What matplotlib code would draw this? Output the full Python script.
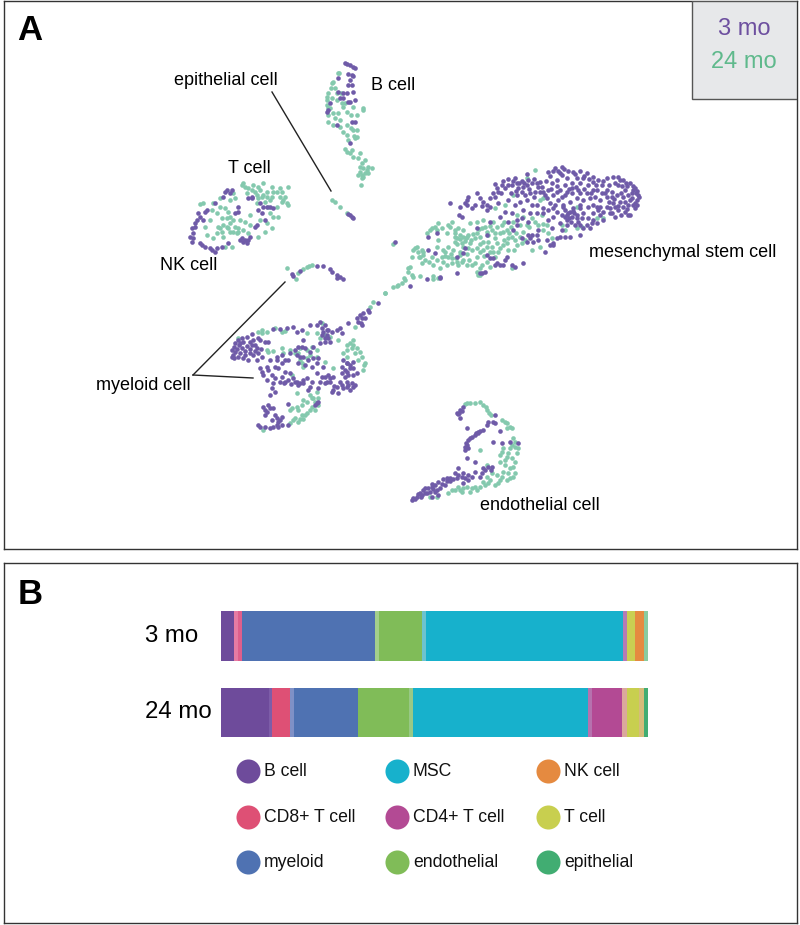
import matplotlib
matplotlib.use("Agg")
import matplotlib.pyplot as plt
from matplotlib.patches import Rectangle

plt.rcParams['font.family'] = ['Liberation Sans', 'DejaVu Sans']

W, H = 800, 925
PURPLE, GREEN = '#6f5ba8', '#84c9ae'

# embedding readings, one list per cluster and age (x, y), each with its own reading origin
msc_origin = (380, 150)
msc_3mo = [(545,50),(525,55),(505,65),(440,72),(385,88),(370,92),(345,103),(405,85),(395,105),(415,115),(430,110),(425,125),(408,122),(440,105),(455,100),(475,110),(465,125),(450,130),(490,125),(505,120),(515,100),(530,90),(545,75),(560,85),(580,65),(590,85),(575,100),(555,105),(540,120),(520,135),(510,160),(520,175),(535,150),(555,135),(575,130),(600,100),(620,70),(640,80),(655,90),(625,105),(640,120),(600,130),(610,150),(630,145),(645,140),(665,105),(680,120),(700,80),(715,80),(730,90),(750,100),(765,115),(775,135),(770,150),(755,130),(735,120),(715,105),(695,125),(680,140),(660,150),(650,170),(625,170),(640,190),(600,175),(580,175),(565,190),(575,200),(560,210),(545,195),(590,195),(605,205),(585,225),(560,225),(540,220),(610,235),(630,235),(650,220),(670,210),(695,190),(715,180),(735,185),(750,195),(765,175),(745,165),(720,155),(700,160),(680,170),(670,185),(755,145),(730,140),(710,135),
(260,150),(290,130),(265,140),(210,160),(240,172),(238,195),(245,200),(300,145),(310,155),(340,130),(350,115),(345,140),(320,180),(275,175),(330,170),(385,150),(405,165),(440,150),(470,165),(430,180),(385,215),(410,210),(400,240),(450,265),(470,255),(440,275),(520,280),(510,285),(540,260),(570,260),(600,255),(495,305),(405,350),(430,340),(370,345),(350,340),(380,320),(340,325),(320,315),(255,295),(230,320),(145,260),(170,250),(45,275),(140,388),(180,385),(90,408),(300,370),(315,365),(230,368),(165,310),(320,255),(290,235),(330,215),(360,200),(395,190),
(535,62),(552,58),(510,78),(498,92),(480,95),(462,88),(448,118),(432,98),(418,100),(398,92),(375,115),(362,130),(392,128),(412,135),(435,135),(462,140),(485,112),(530,108),(568,118),(588,112),(610,85),(628,88),(648,105),(668,92),(688,105),(705,98),(725,108),(742,108),(758,120),(745,135),(722,128),(702,148),(688,155),(665,130),(620,130),(590,145),(570,155),(548,170),(530,185),(555,180),(570,185),(582,190),(595,215),(572,215),(555,200),(520,200),(505,210),(610,190),(625,205),(640,210),(660,195),(690,175),(705,200),(722,195),(742,178),(758,165),(768,128),(262,165),(305,168),(355,158),(375,185),(420,155),(455,165),(490,175),(500,145),(455,255),(475,240),(445,255),(425,265),(515,235),(545,240),
(520,62),(540,68),(565,62),(585,72),(600,62),(612,78),(640,95),(680,85),(720,90),(738,98),(760,108),(772,122),(778,142),(765,160),(750,150),(735,155),(715,168),(695,142),(675,128),(652,120),(632,128),(612,118),(595,120),(575,115),(560,125),(545,140),(530,125),(512,118),(496,135),(480,125),(470,100),(445,90),(425,92),(410,100),(385,105),(365,105),(355,125),(330,145),(320,165),(285,165),(255,160),(560,195),(568,205),(578,182),(590,205),(600,225),(620,225),(635,220),(655,180),(690,190),(705,170),(730,170),(745,195),(770,165),(660,170),(640,165),(600,165),(550,165),(525,165),(505,180),(490,190),(470,190),(450,190),(445,215),(425,205),(410,225),(555,260),(530,265),(500,270),(475,270),(460,275),(520,285),(360,345),(395,345),(375,330),(345,345),(330,325),(305,370),(250,310),(180,380),(145,300)]
msc_24mo = [(465,60),(440,85),(490,145),(480,150),(375,165),(400,135),(345,175),(310,210),(290,215),(270,220),(340,215),(365,225),(380,240),(395,260),(420,225),(430,245),(465,215),(490,240),(515,265),(480,290),(455,300),(435,270),(410,285),(385,265),(360,250),(335,240),(320,245),(300,260),(285,265),(265,255),(250,260),(230,265),(225,275),(245,280),(270,280),(290,295),(310,300),(335,290),(360,295),(385,300),(345,265),(310,275),(210,230),(235,235),(215,215),(175,220),(155,235),(140,250),(185,235),(200,250),(220,300),(205,320),(190,335),(215,340),(235,345),(260,345),(285,340),(300,355),(295,375),(330,350),(395,355),(180,355),(160,345),(130,315),(125,300),(110,290),(100,300),(95,320),(135,330),(148,335),(170,290),(190,300),(175,270),(40,282),(90,350),(85,365),(100,380),(120,378),(75,390),(55,405),(40,412),(15,430),(160,388),(290,320),(320,335),(555,240),(545,225),(590,235),(605,230),(670,205),(590,170),(650,205),
(240,268),(255,272),(262,262),(232,282),(250,290),(280,252),(298,238),(315,232),(330,228),(350,232),(372,215),(392,232),(408,248),(420,262),(448,232),(372,270),(352,280),(325,275),(300,282),(275,300),(262,312),(240,305),(228,325),(212,312),(195,318),(205,292),(130,305),(118,322),(170,240),(225,250),(248,240),(430,200),(412,195),(455,205),(485,195),(490,222),(505,250),(402,300),(370,285),(340,305),(312,318),(268,330),(245,335),(200,345),(290,365),
(150,240),(165,232),(205,225),(225,240),(240,255),(225,262),(258,265),(272,270),(290,250),(305,235),(325,255),(345,248),(370,245),(388,250),(405,270),(425,280),(400,215),(440,225),(475,225),(500,225),(355,305),(330,305),(300,305),(265,295),(240,315),(215,325),(195,305),(185,320),(170,330),(155,320),(115,305),(105,295),(120,320),(125,340),(85,355),(95,375),(72,385),(65,400),(50,408),(380,280),(320,290),(345,320),(250,330),(230,335),(275,345),(305,345),(300,375),(160,378),(175,385)]

myeloid_origin = (210, 260)
myeloid_3mo = [(245,42),(250,48),(270,32),(320,18),(338,18),(360,28),(365,35),(382,45),(390,52),(398,58),(380,55),
(75,250),(85,240),(95,235),(110,230),(125,222),(65,270),(80,268),(95,265),(110,258),(125,255),(70,285),(85,290),(65,292),(100,295),(115,300),(130,285),(145,280),(155,290),(140,265),(130,240),(145,235),(165,245),(175,245),(190,208),(210,208),(230,205),(248,200),(260,215),(275,210),(140,300),(120,280),(150,325),(170,322),(160,345),(185,345),(195,320),(200,290),(215,285),(180,300),(215,310),(240,280),(255,270),(265,260),(285,265),(280,240),(300,195),(330,185),(345,195),(340,215),(355,210),(345,235),(360,245),(330,250),(310,260),(300,275),(270,290),(265,310),(285,315),(305,320),(295,300),(320,310),(340,320),(355,345),(335,350),(320,340),(290,355),(270,370),(250,355),(235,360),(215,350),(210,365),(190,370),(185,385),(180,405),(195,395),(240,340),(380,210),(395,218),(415,190),(445,185),(450,165),(460,160),(465,175),(440,175),(455,195),(505,130),(475,150),(400,300),(410,310),(420,325),(395,320),(430,305),(440,340),(405,350),(390,365),(380,380),(365,395),(400,385),(415,375),(430,380),(420,390),(385,400),(360,355),(350,365),(325,385),(300,380),(265,375),(160,440),(170,455),(165,465),(175,435),(190,445),(185,480),(200,475),(215,470),(205,485),(215,495),(205,500),(180,505),(165,500),(150,500),(145,495),(235,432),(315,435),(295,390),(330,365),
(105,272),(72,262),(88,255),(120,268),(135,272),(152,268),(350,225),(365,215),(335,205),(420,315),(412,335),(428,345),(345,370),(368,350),(372,378),(410,365),(222,368),(242,372),(255,365),(280,360),(172,360),
(90,250),(100,245),(75,275),(90,280),(105,285),(72,295),(120,245),(135,255),(150,240),(200,300),(225,300),(235,300),(205,325),(225,335),(175,330),(155,335),(195,355),(225,365),(260,365),(280,370),(305,365),(275,260),(260,285),(280,290),(310,295),(325,295),(350,210),(335,225),(355,235),(345,245),(320,195),(390,205),(410,310),(405,330),(415,345),(430,325),(395,340),(395,375),(410,380),(425,370),(435,375),(370,390),(345,350),(360,365),(165,450),(180,445),(195,465),(210,480),(190,500),(235,495),(200,495),(320,430),(325,425),(455,175),(452,190),(478,155)]
myeloid_24mo = [(230,25),(258,58),(265,38),(280,28),(292,20),(305,15),(298,18),(525,98),
(145,215),(155,220),(170,215),(195,205),(225,212),(85,235),(170,270),(190,272),(220,278),(240,270),(270,265),(305,262),(320,270),(330,235),(320,220),(290,220),(335,190),(360,230),(385,240),(430,240),(410,255),(425,265),(435,280),(450,275),(455,290),(465,310),(460,330),(410,290),(400,280),(345,305),(370,325),(270,300),(290,295),(245,345),(260,398),(300,405),(320,395),(325,415),(310,415),(280,420),(275,435),(240,450),(260,440),(300,450),(315,450),(290,460),(275,465),(250,480),(240,490),(265,485),(280,478),(160,510),(490,125),(480,140),(435,200),(280,320),
(155,210),(215,215),(175,275),(215,265),(255,280),(265,280),(290,270),(300,285),(275,310),(320,290),(345,225),(420,250),(430,255),(440,265),(445,300),(462,315),(412,270),(305,415),(290,425),(265,450),(245,445),(285,465),(255,475),(270,478),(325,435),(305,440),(315,425)]

endothelial_origin = (400, 390)
endothelial_3mo = [(180,60),(175,72),(190,52),(180,85),(200,115),(235,125),(225,135),(215,140),(205,150),(200,165),(195,180),(205,175),(250,120),(265,95),(285,75),(280,95),(300,122),(280,155),(305,160),(330,155),(355,160),(200,205),(225,215),(265,230),(255,240),(245,250),(175,235),(175,255),(190,250),(205,255),(225,245),(205,270),(190,280),(170,265),(150,265),(130,268),(115,275),(105,285),(95,282),(85,295),(70,300),(60,310),(50,320),(35,330),(45,328),(80,310),(105,305),(120,295),(135,285),(115,315),(95,320),(240,260),(275,230),
(228,128),(240,122),(210,145),(62,322),(75,308),(90,305),(125,282),(142,272),(160,268),(185,262),(100,298),
(178,68),(185,62),(170,68),(198,158),(195,170),(65,315),(40,325),(55,312),(75,295),(110,300),(95,290),(150,272),(165,250),(215,262),(140,265),(195,265),(250,235),(272,240),(285,100),(262,105),(235,130)]
endothelial_24mo = [(195,42),(210,40),(225,38),(240,35),(250,45),(262,60),(272,75),(305,90),(320,100),(335,115),(320,115),(240,180),(340,145),(345,170),(330,175),(310,175),(300,195),(320,200),(335,205),(350,190),(300,215),(315,225),(340,230),(345,250),(325,250),(310,245),(290,255),(275,250),(260,260),(250,275),(270,270),(300,270),(330,265),(285,285),(240,290),(215,295),(190,295),(175,290),(210,305),(180,300),(155,300),(145,310),(110,320),(90,322),(260,225),
(200,40),(258,50),(268,70),(315,95),(330,110),(345,155),(335,165),(355,175),(305,185),(325,190),(345,215),(315,210),(330,235),(305,260),(320,270),(295,280),(255,285),(225,290),(200,290),(185,305),(165,300),(230,300),(265,280),(340,260)]

upper_origin = (180, 50)
bcell_3mo = [(495,40),(510,45),(525,55),(515,75),(510,90),(475,85),(520,125),(505,105),(475,125),(490,145),(510,155),(525,150),(450,160),(440,185),(470,225),(525,215),(510,280),
(500,42),(518,50),(520,78),(505,72),(515,105),(500,130),(490,130),(480,145),(445,180),(517,215),(505,155)]
bcell_24mo = [(475,68),(455,100),(445,130),(465,115),(440,150),(445,175),(455,145),(470,150),(490,170),(520,170),(550,175),(500,185),(530,195),(445,195),(445,215),(465,205),(480,230),(500,255),(520,240),(525,265),(495,298),(510,310),(520,320),(540,310),(545,340),(555,330),(565,350),(575,355),(540,365),(555,370),(545,385),(550,380),(543,405),(530,260),(490,245),
(460,95),(452,115),(470,130),(482,130),(450,175),(460,190),(475,190),(480,210),(460,225),(500,225),(512,235),(530,240),(522,258),(505,270),(500,305),(515,300),(535,325),(540,350),(550,355),(560,360),(565,370),(535,375),(545,375),(440,140),(440,165),(495,160),(512,195),(550,180),(478,70),(485,160)]
tcell_3mo = [(140,420),(155,420),(130,440),(205,445),(240,460),(245,490),(255,510),(175,470),(175,485),(250,470),(270,470),(230,525),(55,490),(50,510),(45,520),(35,535),(40,550),(30,560),(35,575),(60,580),(75,590),(90,595),(105,605),(125,590),(70,510),(80,480),(105,460),(145,580),(185,565),(195,570),(210,560),(200,580),(165,490),(215,440),
(150,430),(215,445),(235,480),(260,470),(180,570),(190,575),(205,570),(65,585),(95,600),(110,595),(40,565),(45,530),(60,500),(75,485),(135,425),(280,475),(225,530)]
tcell_24mo = [(185,405),(195,410),(220,405),(250,400),(275,410),(325,410),(240,420),(160,430),(120,445),(100,460),(60,462),(120,470),(145,485),(125,505),(130,525),(150,520),(165,530),(180,510),(210,495),(235,445),(260,440),(300,440),(320,460),(290,470),(280,500),(260,520),(275,535),(205,550),(170,550),(150,545),(130,560),(100,565),(80,555),(90,510),(235,560),(155,590),(225,425),(290,425),(200,430),(270,450),
(250,435),(230,435),(305,425),(280,425),(310,450),(140,530),(160,510),(120,535),(175,535),(150,500),
(190,400),(205,415),(215,420),(235,410),(260,425),(245,440),(255,455),(275,440),(300,415),(315,440),(305,455),(325,465),(270,490),(295,500),(240,510),(210,525),(195,515),(140,505),(115,530),(110,550),(125,545),(145,535),(160,545),(175,545),(190,540),(75,530),(70,460),(95,480),(150,450),(165,445),(135,475),(110,490),(265,470),(230,460),(255,545),(135,590)]
epithelial_3mo = [(505,492),(515,500),(520,505),(510,495)]
epithelial_24mo = [(455,450),(465,455),(480,470),(500,488)]

clusters = [
    (msc_origin, msc_3mo, msc_24mo),
    (myeloid_origin, myeloid_3mo, myeloid_24mo),
    (endothelial_origin, endothelial_3mo, endothelial_24mo),
    (upper_origin, bcell_3mo, bcell_24mo),
    (upper_origin, tcell_3mo, tcell_24mo),
    (upper_origin, epithelial_3mo, epithelial_24mo),
]

cluster_labels = ['B cell', 'epithelial cell', 'T cell', 'NK cell',
                  'mesenchymal stem cell', 'myeloid cell', 'endothelial cell']

# composition (share of cells, %)
ages = ['3 mo', '24 mo']
shares_3mo = [3.05, 1.0, 0.95, 31.1, 0.95, 10.0, 1.0, 46.0, 1.0, 2.0, 2.0, 0.95]
colors_3mo = ['#6e4b9b', '#e77ba3', '#df5f8c', '#4f72b2', '#a3cf8c', '#80bc58', '#6cc3cf',
              '#17b1cc', '#b57bb5', '#c9cf52', '#e58a40', '#89cba0']
shares_24mo = [11.2, 0.85, 4.05, 0.95, 15.0, 11.95, 1.0, 41.0, 1.0, 7.0, 1.0, 3.0, 1.0, 1.1]
colors_24mo = ['#6e4b9b', '#7d5da8', '#de5075', '#7f90c6', '#4f72b2', '#80bc58', '#98c986',
               '#17b1cc', '#b672ae', '#b34a94', '#dba99c', '#c8cf4f', '#d5bc7a', '#41ad72']

legend_names = ['B cell', 'MSC', 'NK cell', 'CD8+ T cell', 'CD4+ T cell', 'T cell',
                'myeloid', 'endothelial', 'epithelial']
legend_colors = ['#6e4b9b', '#17b1cc', '#e58a40', '#de5075', '#b34a94', '#c8cf4f',
                 '#4f72b2', '#80bc58', '#41ad72']


def px_axes(fig, x0, y0, x1, y1):
    ax = fig.add_axes([x0 / W, 1 - y1 / H, (x1 - x0) / W, (y1 - y0) / H])
    return ax


fig = plt.figure(figsize=(8, 9.25), dpi=100, facecolor='white')

# Panel A
axA = px_axes(fig, 4, 1, 797, 549)
axA.set_xlim(4, 797)
axA.set_ylim(549, 1)
axA.set_xticks([]); axA.set_yticks([])
for s in axA.spines.values():
    s.set_color('#333333'); s.set_linewidth(1.0)

for (ox, oy), a, b in clusters:
    axA.scatter([ox + p[0] / 3 for p in b], [oy + p[1] / 3 for p in b], s=11, c=GREEN, lw=0, zorder=2)
    axA.scatter([ox + p[0] / 3 for p in a], [oy + p[1] / 3 for p in a], s=11, c=PURPLE, lw=0, zorder=3)

axA.add_patch(Rectangle((692, 1), 105, 98, fc='#e7e8ea', ec='#555555', lw=1.0, zorder=4))
axA.text(744, 29, '3 mo', color='#6d4f9f', fontsize=17, ha='center', va='center', zorder=5)
axA.text(744, 62, '24 mo', color='#5fb98c', fontsize=17, ha='center', va='center', zorder=5)
axA.text(17, 30, 'A', fontsize=25, fontweight='bold', ha='left', va='center', color='black')

label_pos = [(371, 85), (174, 80), (228, 168), (160, 265), (589, 252), (96, 385), (480, 505)]
for name, (x, y) in zip(cluster_labels, label_pos):
    axA.text(x, y, name, fontsize=13, ha='left', va='center', color='black')

axA.plot([272, 331], [92, 191], color='#222222', lw=1.0)
axA.plot([193, 285], [375, 282], color='#222222', lw=1.0)
axA.plot([193, 253], [375, 378], color='#222222', lw=1.0)

# Panel B
axB = px_axes(fig, 4, 563, 797, 923)
axB.set_xlim(4, 797)
axB.set_ylim(923, 563)
axB.set_xticks([]); axB.set_yticks([])
for s in axB.spines.values():
    s.set_color('#333333'); s.set_linewidth(1.0)
axB.text(18, 595, 'B', fontsize=25, fontweight='bold', ha='left', va='center', color='black')
axB.text(145, 636, ages[0], fontsize=17.3, ha='left', va='center', color='black')
axB.text(145, 712, ages[1], fontsize=17.3, ha='left', va='center', color='black')

leg_x = [248, 397, 548]
leg_y = [771, 817, 862]
for i, (name, col) in enumerate(zip(legend_names, legend_colors)):
    x, y = leg_x[i % 3], leg_y[i // 3]
    axB.scatter([x], [y], s=300, c=col, lw=0)
    axB.text(x + 16, y + 1, name, fontsize=12.7, ha='left', va='center', color='#111111')

# stacked bars
axS = px_axes(fig, 221, 611, 648, 737)
axS.set_xlim(0, 100)
axS.set_ylim(126, 0)
axS.axis('off')
axS.patch.set_alpha(0)
for ypos, shares, cols in [(25, shares_3mo, colors_3mo), (101.5, shares_24mo, colors_24mo)]:
    left = 0
    for v, c in zip(shares, cols):
        axS.barh(ypos, v, left=left, height=49.5, color=c, lw=0)
        left += v

fig.savefig('out.png', dpi=100, facecolor='white')
